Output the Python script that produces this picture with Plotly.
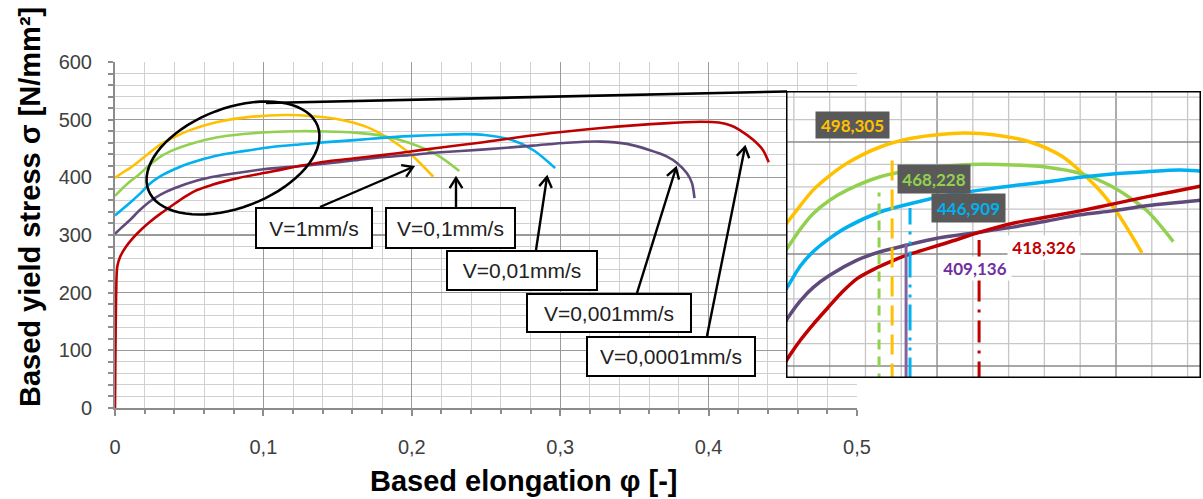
import math
import plotly.graph_objects as go

# ---------------- data ----------------
series_names = ["V=1mm/s", "V=0,1mm/s", "V=0,01mm/s", "V=0,001mm/s", "V=0,0001mm/s"]
series_colors = ["#FFC000", "#92D050", "#00B0F0", "#604A7B", "#C00000"]

phi_yellow = [0, 0.005, 0.0101, 0.0162, 0.0235, 0.0307, 0.04, 0.0497, 0.0682, 0.0866, 0.1145, 0.1335,
              0.152, 0.170, 0.189, 0.2006, 0.2145]
sig_yellow = [399, 408, 416, 428, 443, 457, 470, 481, 495.5, 503.5, 508, 506,
              500, 487, 460, 437, 401]

phi_green = [0, 0.008, 0.0162, 0.0235, 0.0307, 0.04, 0.0497, 0.0682, 0.0866, 0.1056, 0.124, 0.1425,
             0.1615, 0.180, 0.198, 0.217, 0.232]
sig_green = [368, 388, 405, 422, 436, 448, 457, 469, 475, 478.5, 480, 479.5,
             477.5, 472, 460, 439, 411]

phi_blue = [0, 0.0101, 0.0162, 0.0235, 0.0307, 0.04, 0.0497, 0.0682, 0.0866, 0.1056, 0.124, 0.1425,
            0.1615, 0.180, 0.198, 0.217, 0.2358, 0.249, 0.267, 0.282, 0.2966]
sig_blue = [334, 356, 370, 389, 402, 414, 424, 437.5, 445.5, 452.5, 457, 461,
            464.5, 468.5, 471.5, 473.5, 475, 473.5, 465, 447, 416]

phi_purple = [0, 0.004, 0.0101, 0.0162, 0.0235, 0.0307, 0.04, 0.0553, 0.0682, 0.0832, 0.1, 0.124,
              0.1425, 0.1615, 0.180, 0.198, 0.217, 0.247, 0.2817, 0.3046, 0.327, 0.345,
              0.3605, 0.372, 0.3787, 0.3854, 0.3888, 0.3905]
sig_purple = [302, 312, 326, 342, 358, 370, 381, 394.5, 402, 408, 414, 419.5,
              424, 429.5, 435, 438.5, 443, 448, 455, 460, 462, 458,
              447, 436, 425, 407, 390, 364]

phi_red = [0, 0.0008, 0.0015, 0.0034, 0.0075, 0.0122, 0.0179, 0.0236, 0.0307, 0.039, 0.047,
           0.0553, 0.0655, 0.0737, 0.0832, 0.1056, 0.124, 0.1425, 0.1615, 0.180, 0.198,
           0.217, 0.247, 0.2824, 0.3277, 0.373, 0.395, 0.4068, 0.415, 0.421, 0.43, 0.4367, 0.4405]
sig_red = [0, 200, 245, 262, 280, 295, 310, 323, 337, 352, 366,
           378, 387, 393, 399, 410, 419.5, 427.5, 433, 438.5, 444.5,
           451, 460.5, 473, 485.5, 494, 496.5, 495, 490, 482, 465, 447, 426]

series_phi = [phi_yellow, phi_green, phi_blue, phi_purple, phi_red]
series_sig = [sig_yellow, sig_green, sig_blue, sig_purple, sig_red]

# inset: marked points (yellow, green, blue, purple, red)
mark_phi = [0.0749, 0.0676, 0.0849, 0.0827, 0.1235]
mark_top = [488, 455, 441, 409, 412.5]
mark_labels = ["498,305", "468,228", "446,909", "409,136", "418,326"]
mark_label_colors = ["#FFC000", "#92D050", "#00B0F0", "#7030A0", "#C00000"]
mark_line_colors = ["#FFC000", "#92D050", "#00B0F0", "#8064A2", "#C00000"]
mark_dash = ["20px,9px", "10px,7px", "26px,7px,3px,7px,3px,7px", "solid", "22px,8px,3px,8px"]

x_ticks = [0, 0.1, 0.2, 0.3, 0.4, 0.5]
y_ticks = [0, 100, 200, 300, 400, 500, 600]

# ---------------- geometry ----------------
FONT = "Liberation Sans, Arial, sans-serif"
W, H = 1203, 499
L, R, T, B = 115, 2, 62, 91
PW = W - L - R
PH = H - T - B
MAIN_RIGHT = 857
INSET_PX = (786, 1201)
INSET_PY = (91, 378)
INSET_X = [0.0156, 0.2475]
INSET_Y = [289.3, 545.5]


def mx(px):
    return (px - L) / (MAIN_RIGHT - L) * 0.5


def my(py):
    return (H - B - py) / PH * 600


def ix(px):
    return 0.1 + (px - 937) / 1790.0


def iy(py):
    return 400 + (254 - py) / 1.12


def px_paper(px):
    return (px - L) / PW


def py_paper(py):
    return (H - B - py) / PH


fig = go.Figure()

for name, ph, sg, col in zip(series_names, series_phi, series_sig, series_colors):
    fig.add_trace(go.Scatter(x=ph, y=sg, mode="lines", name=name,
                             line=dict(color=col, width=2.6, shape="spline", smoothing=0.8),
                             xaxis="x", yaxis="y", hoverinfo="skip"))

for name, ph, sg, col in zip(series_names, series_phi, series_sig, series_colors):
    fig.add_trace(go.Scatter(x=ph, y=sg, mode="lines", name=name,
                             line=dict(color=col, width=3.5, shape="spline", smoothing=0.8),
                             xaxis="x2", yaxis="y2", hoverinfo="skip"))

# drop lines in inset
for xp, yt, col, dsh in zip(mark_phi, mark_top, mark_line_colors, mark_dash):
    fig.add_trace(go.Scatter(x=[xp, xp], y=[INSET_Y[0] - 5, yt], mode="lines",
                             line=dict(color=col, width=3, dash=dsh),
                             xaxis="x2", yaxis="y2", hoverinfo="skip"))

grid_major = "#9a9a9a"
grid_minor = "#d0d0d0"
axis_col = "#8c8c8c"

fig.update_layout(
    width=W, height=H,
    margin=dict(l=L, r=R, t=T, b=B, autoexpand=False),
    paper_bgcolor="white", plot_bgcolor="white",
    showlegend=False,
    separators=", ",
    font=dict(family=FONT, color="#404040"),
    xaxis=dict(domain=[0, (MAIN_RIGHT - L) / PW], range=[0, 0.5], tickvals=x_ticks,
               automargin=False,
               showgrid=True, gridcolor=grid_major, gridwidth=1.3,
               showline=True, linecolor=axis_col, linewidth=2, zeroline=False,
               ticks="outside", ticklen=6, tickwidth=2, tickcolor=axis_col,
               tickfont=dict(size=20, color="#404040", family=FONT),
               ticklabelstandoff=14,
               minor=dict(dtick=0.02, showgrid=True, gridcolor=grid_minor, gridwidth=1,
                          ticks="outside", ticklen=4, tickwidth=2, tickcolor=axis_col),
               anchor="y"),
    yaxis=dict(domain=[0, 1], range=[0, 600], tickvals=y_ticks,
               automargin=False,
               showgrid=True, gridcolor=grid_major, gridwidth=1.3,
               showline=True, linecolor=axis_col, linewidth=2, zeroline=False,
               ticks="outside", ticklen=5, tickwidth=2, tickcolor=axis_col,
               tickfont=dict(size=20, color="#404040", family=FONT),
               ticklabelstandoff=12,
               minor=dict(dtick=20, showgrid=True, gridcolor=grid_minor, gridwidth=1,
                          ticks="outside", ticklen=5, tickwidth=2, tickcolor=axis_col),
               anchor="x"),
    xaxis2=dict(domain=[px_paper(INSET_PX[0]), px_paper(INSET_PX[1])], range=INSET_X,
                automargin=False, showticklabels=False, ticks="", showgrid=False, zeroline=False,
                anchor="y2"),
    yaxis2=dict(domain=[py_paper(INSET_PY[1]), py_paper(INSET_PY[0])], range=INSET_Y,
                automargin=False, showticklabels=False, ticks="", showgrid=False, zeroline=False,
                anchor="x2"),
)

shapes = []
# white background of inset (hides main grid under it)
shapes.append(dict(type="rect", xref="x2", yref="y2", x0=INSET_X[0], x1=INSET_X[1],
                   y0=INSET_Y[0], y1=INSET_Y[1], fillcolor="white", line=dict(width=0),
                   layer="below"))

# inset grid (drawn between the white background and the inset curves)
k0 = math.ceil(INSET_X[0] / 0.02 - 1e-9)
k1 = math.floor(INSET_X[1] / 0.02 + 1e-9)
for k in range(k0, k1 + 1):
    xv = k * 0.02
    major = (k % 5 == 0)
    shapes.append(dict(type="line", xref="x2", yref="y2", x0=xv, x1=xv, y0=INSET_Y[0], y1=INSET_Y[1],
                       line=dict(color="#8a8a8a" if major else "#c6c6c6", width=1.4 if major else 1.3),
                       layer="between"))
j0 = math.ceil(INSET_Y[0] / 20 - 1e-9)
j1 = math.floor(INSET_Y[1] / 20 + 1e-9)
for j in range(j0, j1 + 1):
    yv = j * 20
    major = (j % 5 == 0)
    shapes.append(dict(type="line", xref="x2", yref="y2", x0=INSET_X[0], x1=INSET_X[1], y0=yv, y1=yv,
                       line=dict(color="#8a8a8a" if major else "#c6c6c6", width=1.4 if major else 1.3),
                       layer="between"))

# inset frame
shapes.append(dict(type="rect", xref="x2", yref="y2", x0=INSET_X[0], x1=INSET_X[1],
                   y0=INSET_Y[0], y1=INSET_Y[1], line=dict(color="black", width=3),
                   layer="above"))

# ellipse (pixel geometry -> main data coords)
cx, cy, ea, eb, th = 233, 158, 90.5, 49.8, math.radians(20.7)
ux, uy = math.cos(th), -math.sin(th)
vx, vy = math.sin(th), math.cos(th)
pts = []
for k in range(73):
    t = 2 * math.pi * k / 72
    px = cx + ea * math.cos(t) * ux + eb * math.sin(t) * vx
    py = cy + ea * math.cos(t) * uy + eb * math.sin(t) * vy
    pts.append((mx(px), my(py)))
path = "M " + " L ".join(f"{a:.5f},{b:.3f}" for a, b in pts) + " Z"
shapes.append(dict(type="path", xref="x", yref="y", path=path,
                   line=dict(color="black", width=2.6), layer="above"))

# connector line ellipse -> inset
shapes.append(dict(type="line", xref="x", yref="y", x0=mx(266), y0=my(103), x1=mx(787), y1=my(91.5),
                   line=dict(color="black", width=2.6), layer="above"))

# arrows
arrow_px = [((320, 207), (413, 167)),
            ((456, 207), (456, 178)),
            ((536, 250), (547, 177)),
            ((637, 293), (676, 168)),
            ((707, 336), (745, 147))]
for (tx, ty), (hx, hy) in arrow_px:
    shapes.append(dict(type="line", xref="x", yref="y", x0=mx(tx), y0=my(ty), x1=mx(hx), y1=my(hy),
                       line=dict(color="black", width=2.4), layer="above"))
    dx, dy = hx - tx, hy - ty
    n = math.hypot(dx, dy)
    bx, by = -dx / n, -dy / n
    arms = []
    for sgn in (1, -1):
        a = math.radians(32) * sgn
        rx = math.cos(a) * bx - math.sin(a) * by
        ry = math.sin(a) * bx + math.cos(a) * by
        arms.append((hx + 12 * rx, hy + 12 * ry))
    p = (f"M {mx(arms[0][0]):.5f},{my(arms[0][1]):.3f} L {mx(hx):.5f},{my(hy):.3f} "
         f"L {mx(arms[1][0]):.5f},{my(arms[1][1]):.3f}")
    shapes.append(dict(type="path", xref="x", yref="y", path=p,
                       line=dict(color="black", width=2.4), layer="above"))

fig.update_layout(shapes=shapes)

annotations = []
# speed text boxes (pixel boxes: left, top, right, bottom)
box_px = [(255, 207, 373, 249), (385, 207, 516, 249), (446, 250, 598, 291),
          (526, 293, 692, 333), (586, 336, 756, 377)]
for name, (x0, y0, x1, y1) in zip(series_names, box_px):
    annotations.append(dict(x=mx((x0 + x1) / 2), y=my((y0 + y1) / 2), xref="x", yref="y",
                            text=name, showarrow=False, xanchor="center", yanchor="middle",
                            font=dict(family=FONT, size=21, color="#222222"),
                            bgcolor="white", bordercolor="black", borderwidth=2, borderpad=0,
                            width=x1 - x0 - 4, height=y1 - y0 - 4))

# inset value labels
lab_px = [(852.5, 125, 73, 26, "#595959"), (934, 179, 72, 28, "#595959"),
          (968.5, 208, 73, 28, "#595959"), (975, 269, 72, 23, "white"),
          (1044, 248, 72, 23, "white")]
for txt, col, (px, py, w, h, bg) in zip(mark_labels, mark_label_colors, lab_px):
    annotations.append(dict(x=ix(px), y=iy(py), xref="x2", yref="y2",
                            text=f"<b>{txt}</b>", showarrow=False, xanchor="center", yanchor="middle",
                            font=dict(family="Lato, Open Sans, sans-serif", size=17, color=col),
                            bgcolor=bg, borderpad=0, width=w, height=h))

# axis titles
annotations.append(dict(x=px_paper(524), y=py_paper(481), xref="paper", yref="paper",
                        text="<b>Based elongation φ [-]</b>", showarrow=False,
                        xanchor="center", yanchor="middle",
                        font=dict(family=FONT, size=29, color="black")))
annotations.append(dict(x=px_paper(30), y=py_paper(207), xref="paper", yref="paper",
                        text="<b>Based yield stress σ [N/mm²]</b>", showarrow=False, textangle=-90,
                        xanchor="center", yanchor="middle",
                        font=dict(family=FONT, size=29, color="black")))

fig.update_layout(annotations=annotations)

fig.write_html("out.html",
               config={"displayModeBar": False, "staticPlot": True},
               post_script="document.body.style.margin='0px';document.body.style.overflow='hidden';")
